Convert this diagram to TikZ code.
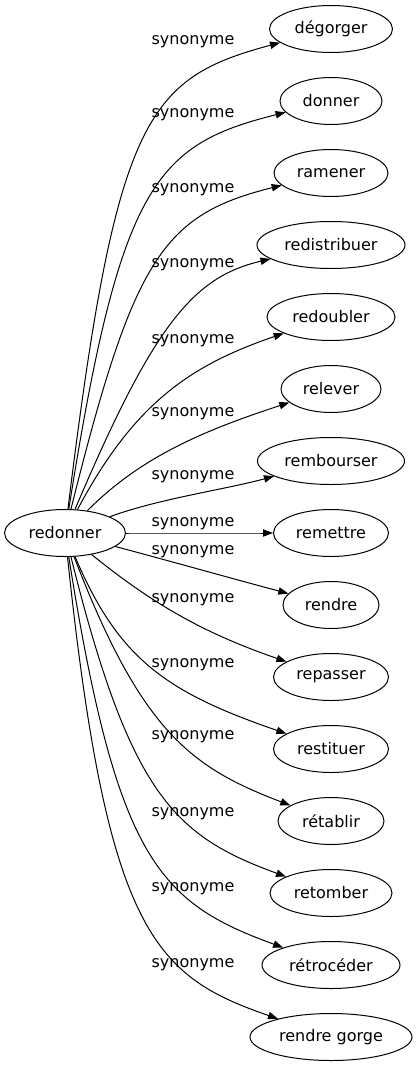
\documentclass[tikz,border=0pt]{standalone}
\usepackage{fontspec}
\setmainfont{DejaVu Sans}
\usepackage{tikz}
\usetikzlibrary{shapes.geometric,arrows.meta}
\newdimen\pxu \pxu=0.75pt

\begin{document}
\begin{tikzpicture}[x=0.75pt,y=0.75pt,line width=0.75pt,
  word/.style={draw,ellipse,inner sep=0pt,minimum height=47\pxu,font=\fontsize{12}{14}\selectfont},
  rel/.style={inner sep=0pt,font=\fontsize{12}{14}\selectfont},
  syn/.style={-{Triangle[length=7.5pt,width=5.5pt]}}]
  \useasboundingbox (0,0) rectangle (417,-1067);
  % the head word
  \node[word,minimum width=121\pxu] (redonner) at (65,-533) {redonner};
  % its synonyms, one per row
  \foreach \nm/\txt/\ew/\ly/\ao/\ai/\lo/\li [count=\k from 0] in {
      degorger/dégorger/123/42/83/195/1.97/0.69,
      donner/donner/102/115/81/194/1.86/0.76,
      ramener/ramener/114/190/76/194/1.72/0.81,
      redistribuer/redistribuer/148/265/67/193/1.61/0.64,
      redoubler/redoubler/128/341/62/199/1.16/0.91,
      relever/relever/100/414/45/198/0.81/1.08,
      rembourser/rembourser/147/477/20/195/0.8/0.8,
      remettre/remettre/115/524/0/180/1/1,
      rendre/rendre/96/552/-15/165/1/1,
      repasser/repasser/115/600/-39/161/0.93/0.98,
      restituer/restituer/115/665/-67/161/1.03/1.19,
      retablir/rétablir/106/737/-69/159/1.47/0.81,
      retomber/retomber/122/814/-76/160/1.63/0.79,
      retroceder/rétrocéder/138/889/-81/160/1.76/0.76,
      rendregorge/rendre gorge/162/965/-84/161/1.90/0.66} {
    \node[word,minimum width=\ew\pxu] (\nm) at (331,{-29-72*\k}) {\txt};
    \node[rel] (lbl\nm) at (193,-\ly) {synonyme};
    \draw[syn] (redonner) to[out=\ao,in=\ai,out looseness=\lo,in looseness=\li] (\nm);
  }
\end{tikzpicture}
\end{document}
